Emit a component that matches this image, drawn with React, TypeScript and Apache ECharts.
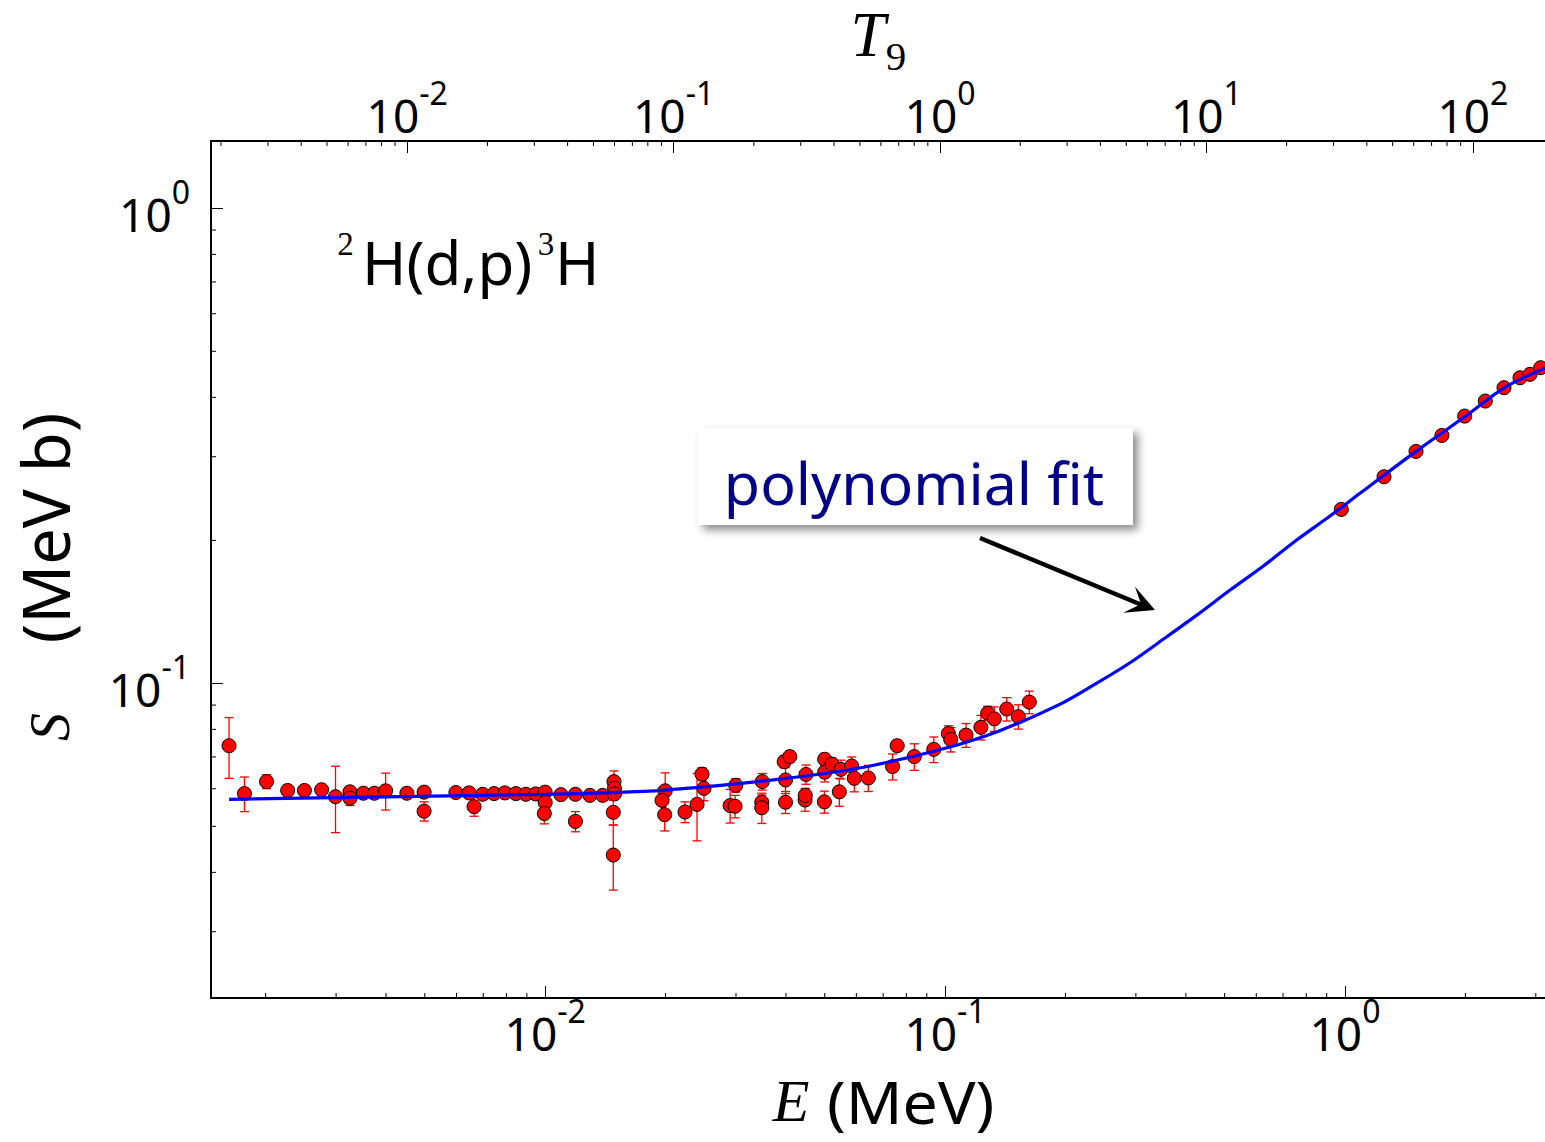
import React, { useEffect, useRef } from 'react';
import * as echarts from 'echarts';

// ---------- data ----------
// low-energy measurements (E in MeV, S in MeV b, symmetric error)
const E_LOW = [
  0.00162, 0.00177, 0.00201, 0.00227, 0.0025, 0.00276, 0.00299, 0.00325, 0.00325, 0.00351,
  0.00374, 0.00399, 0.00451, 0.00498, 0.00498, 0.00598, 0.00645, 0.00664, 0.00698, 0.00745,
  0.00793, 0.00845, 0.00895, 0.00947, 0.01, 0.01, 0.00995, 0.01095, 0.0119, 0.0119,
  0.01294, 0.01393, 0.01486, 0.0149, 0.0149, 0.0148, 0.0148, 0.01996, 0.0196, 0.0199,
  0.02237, 0.02397, 0.02467, 0.02495, 0.029, 0.02984, 0.02996, 0.0349, 0.0348, 0.0348,
  0.0396, 0.0409, 0.0399, 0.0399, 0.04488, 0.04466, 0.0447, 0.05, 0.05, 0.0499,
  0.05214, 0.0549, 0.05439, 0.0584, 0.05929, 0.06427, 0.0739, 0.0759, 0.08375, 0.0937,
  0.1019, 0.1033, 0.1128, 0.1229, 0.1278, 0.1327, 0.1426, 0.1524, 0.1624,
];
const S_LOW = [
  0.0739, 0.0586, 0.0621, 0.0595, 0.0595, 0.0597, 0.0577, 0.0591, 0.0573, 0.0587,
  0.0587, 0.0594, 0.0587, 0.059, 0.0538, 0.0589, 0.0588, 0.055, 0.0584, 0.0586,
  0.0588, 0.0586, 0.0584, 0.0585, 0.059, 0.0561, 0.0532, 0.0583, 0.0584, 0.0512,
  0.0581, 0.0581, 0.0621, 0.0601, 0.0585, 0.0535, 0.0435, 0.0594, 0.0567, 0.0529,
  0.0536, 0.0556, 0.0644, 0.0601, 0.0553, 0.0551, 0.061, 0.0621, 0.0562, 0.0547,
  0.0684, 0.0701, 0.0626, 0.0562, 0.0643, 0.0568, 0.0581, 0.0692, 0.065, 0.0563,
  0.0676, 0.0659, 0.0591, 0.067, 0.0631, 0.0632, 0.0668, 0.0739, 0.0701, 0.0726,
  0.0784, 0.0762, 0.0778, 0.0808, 0.0865, 0.0842, 0.0883, 0.0851, 0.0913,
];
const ERR_LOW = [
  0.0108, 0.0049, 0.0021, 0.0015, 0.001, 0.001, 0.0092, 0.0012, 0.002, 0.001,
  0.001, 0.0053, 0.0008, 0.0008, 0.0025, 0.0007, 0.0007, 0.0025, 0.0007, 0.0007,
  0.0007, 0.0007, 0.0007, 0.0007, 0.0008, 0.0015, 0.0026, 0.0007, 0.0007, 0.0025,
  0.0007, 0.0007, 0.0033, 0.002, 0.001, 0.0032, 0.0068, 0.0054, 0.0035, 0.004,
  0.0027, 0.009, 0.002, 0.0035, 0.0045, 0.003, 0.002, 0.0025, 0.002, 0.004,
  0.002, 0.002, 0.004, 0.003, 0.003, 0.003, 0.002, 0.002, 0.003, 0.003,
  0.002, 0.003, 0.004, 0.003, 0.004, 0.004, 0.0042, 0.002, 0.0045, 0.0045,
  0.003, 0.0045, 0.0045, 0.0048, 0.003, 0.005, 0.005, 0.005, 0.005,
];
// high-energy measurements (errors smaller than the markers)
const E_HIGH = [0.979, 1.252, 1.505, 1.747, 1.992, 2.243, 2.498, 2.739, 2.901, 3.085];
const S_HIGH = [0.2324, 0.2722, 0.3078, 0.3326, 0.3653, 0.3929, 0.4192, 0.4399, 0.4472, 0.4618];

// polynomial fit, sampled along the drawn curve
const FIT_E = [
  0.00162, 0.00398, 0.01, 0.0149, 0.02, 0.03, 0.04, 0.05, 0.065, 0.1, 0.137, 0.194, 0.239,
  0.29, 0.351, 0.426, 0.516, 0.625, 0.757, 0.917, 1.09, 1.505, 2.0, 2.5, 3.163,
];
const FIT_S = [
  0.057, 0.0577, 0.0584, 0.0589, 0.0596, 0.0614, 0.0631, 0.0646, 0.067, 0.073, 0.0795, 0.0904, 0.1,
  0.1105, 0.1238, 0.1392, 0.1572, 0.1766, 0.2003, 0.225, 0.2512, 0.3078, 0.365, 0.419, 0.461,
];

// axis ranges
const E_RANGE = [0.00146, 3.163];
const S_RANGE = [0.021755, 1.386];
const T9_RANGE = [0.001834, 186.6];
// minor tick multipliers (2..9 per decade) and decades spanned
const MINOR_MULT = [2, 3, 4, 5, 6, 7, 8, 9];
const E_DECADES = [-3, -2, -1, 0];
const S_DECADES = [-2, -1, 0];
const T9_DECADES = [-3, -2, -1, 0, 1, 2];

const SANS = "'Noto Sans', 'Liberation Sans', sans-serif";
const SERIF = "'Liberation Serif', 'DejaVu Serif', serif";

function minorTicks(decades: number[], range: number[]) {
  const out: number[] = [];
  decades.forEach((d) =>
    MINOR_MULT.forEach((m) => {
      const v = m * Math.pow(10, d);
      if (v > range[0] && v < range[1]) out.push(v);
    })
  );
  return out;
}

const pow10Label = (v: number) => {
  const e = Math.round(Math.log10(v));
  return `{b|10}{s|${e}}`;
};

const labelRich = {
  b: { fontFamily: SANS, fontSize: 46, color: '#000', lineHeight: 78 },
  s: { fontFamily: SANS, fontSize: 32, color: '#000', lineHeight: 20, verticalAlign: 'top' },
};

export default function App() {
  const ref = useRef<HTMLDivElement>(null);

  useEffect(() => {
    if (!ref.current) return;
    const chart = echarts.init(ref.current, null, { renderer: 'svg' });

    const scatterData = [
      ...E_LOW.map((e, i) => [e, S_LOW[i]]),
      ...E_HIGH.map((e, i) => [e, S_HIGH[i]]),
    ];
    const errData = E_LOW.map((e, i) => [e, S_LOW[i] - ERR_LOW[i], S_LOW[i] + ERR_LOW[i]]);
    const fitData = FIT_E.map((e, i) => [e, FIT_S[i]]);

    const tickLine = (x1: number, y1: number, x2: number, y2: number) => ({
      type: 'line',
      shape: { x1, y1, x2, y2 },
      style: { stroke: '#000', lineWidth: 1 },
    });

    const txt = (
      text: string,
      x: number,
      y: number,
      family: string,
      size: number,
      extra: any = {},
      align = 'center'
    ) => ({
      type: 'text',
      x,
      y,
      ...(extra.rotation !== undefined ? { rotation: extra.rotation } : {}),
      ...(extra.scaleX !== undefined ? { scaleX: extra.scaleX } : {}),
      style: {
        text,
        align,
        verticalAlign: 'middle',
        fontFamily: family,
        fontSize: size,
        fontStyle: extra.italic ? 'italic' : 'normal',
        lineHeight: extra.lineHeight ?? Math.round(size * 1.0),
        fill: extra.fill ?? '#000',
      },
      z: extra.z ?? 50,
    });

    const option: any = {
      animation: false,
      backgroundColor: '#fff',
      grid: { left: 211, top: 141, right: 0, bottom: 144, containLabel: false },
      xAxis: [
        {
          type: 'log',
          logBase: 10,
          min: E_RANGE[0],
          max: E_RANGE[1],
          position: 'bottom',
          axisLine: { show: true, onZero: false, lineStyle: { color: '#000', width: 2 } },
          axisTick: { show: true, inside: true, length: 12, lineStyle: { color: '#000', width: 1 } },
          splitLine: { show: false },
          axisLabel: {
            formatter: pow10Label,
            rich: labelRich,
            margin: -4,
            showMinLabel: false,
            showMaxLabel: false,
          },
        },
        {
          type: 'log',
          logBase: 10,
          min: T9_RANGE[0],
          max: T9_RANGE[1],
          position: 'top',
          axisLine: { show: true, onZero: false, lineStyle: { color: '#000', width: 2 } },
          axisTick: { show: true, inside: true, length: 12, lineStyle: { color: '#000', width: 1 } },
          splitLine: { show: false },
          axisLabel: {
            formatter: pow10Label,
            rich: labelRich,
            margin: -13,
            showMinLabel: false,
            showMaxLabel: false,
          },
        },
      ],
      yAxis: [
        {
          type: 'log',
          logBase: 10,
          min: S_RANGE[0],
          max: S_RANGE[1],
          position: 'left',
          axisLine: { show: true, onZero: false, lineStyle: { color: '#000', width: 2 } },
          axisTick: { show: true, inside: true, length: 12, lineStyle: { color: '#000', width: 1 } },
          splitLine: { show: false },
          axisLabel: {
            formatter: pow10Label,
            rich: labelRich,
            margin: 21,
            padding: [12, 0, 0, 0],
            showMinLabel: false,
            showMaxLabel: false,
          },
        },
      ],
      series: [
        // minor ticks, bottom axis
        {
          type: 'custom',
          silent: true,
          xAxisIndex: 0,
          yAxisIndex: 0,
          data: minorTicks(E_DECADES, E_RANGE).map((v) => [v, S_RANGE[0]]),
          encode: { x: 0, y: 1 },
          renderItem: (_p: any, api: any) => {
            const p = api.coord([api.value(0), S_RANGE[0]]);
            return tickLine(p[0], p[1], p[0], p[1] - 5);
          },
          z: 1,
        },
        // minor ticks, top (T9) axis
        {
          type: 'custom',
          silent: true,
          xAxisIndex: 1,
          yAxisIndex: 0,
          data: minorTicks(T9_DECADES, T9_RANGE).map((v) => [v, S_RANGE[1]]),
          encode: { x: 0, y: 1 },
          renderItem: (_p: any, api: any) => {
            const p = api.coord([api.value(0), S_RANGE[1]]);
            return tickLine(p[0], p[1], p[0], p[1] + 5);
          },
          z: 1,
        },
        // minor ticks, left axis
        {
          type: 'custom',
          silent: true,
          xAxisIndex: 0,
          yAxisIndex: 0,
          data: minorTicks(S_DECADES, S_RANGE).map((v) => [E_RANGE[0], v]),
          encode: { x: 0, y: 1 },
          renderItem: (_p: any, api: any) => {
            const p = api.coord([E_RANGE[0], api.value(1)]);
            return tickLine(p[0], p[1], p[0] + 5, p[1]);
          },
          z: 1,
        },
        // error bars
        {
          type: 'custom',
          name: 'errors',
          silent: true,
          xAxisIndex: 0,
          yAxisIndex: 0,
          data: errData,
          encode: { x: 0, y: [1, 2] },
          renderItem: (_p: any, api: any) => {
            const x = api.value(0);
            const lo = api.coord([x, api.value(1)]);
            const hi = api.coord([x, api.value(2)]);
            const w = 4.5;
            const st = { stroke: '#ff0000', lineWidth: 1.3 };
            return {
              type: 'group',
              children: [
                { type: 'line', shape: { x1: lo[0], y1: lo[1], x2: hi[0], y2: hi[1] }, style: st },
                { type: 'line', shape: { x1: lo[0] - w, y1: lo[1], x2: lo[0] + w, y2: lo[1] }, style: st },
                { type: 'line', shape: { x1: hi[0] - w, y1: hi[1], x2: hi[0] + w, y2: hi[1] }, style: st },
              ],
            };
          },
          z: 2,
        },
        {
          type: 'scatter',
          name: 'data',
          xAxisIndex: 0,
          yAxisIndex: 0,
          data: scatterData,
          symbol: 'circle',
          symbolSize: 14,
          itemStyle: { color: '#ff0000', borderColor: '#000', borderWidth: 1, opacity: 1 },
          z: 3,
        },
        {
          type: 'line',
          name: 'polynomial fit',
          xAxisIndex: 0,
          yAxisIndex: 0,
          data: fitData,
          showSymbol: false,
          symbol: 'none',
          smooth: 0.3,
          lineStyle: { color: '#0000ff', width: 3.2 },
          z: 4,
        },
      ],
      graphic: [
        // top axis title T9
        txt('T', 868, 35, SERIF, 63, { italic: true, lineHeight: 50 }),
        txt('9', 896, 56, SERIF, 41, { lineHeight: 34 }),
        // x axis title
        txt('E', 791, 1101, SERIF, 60, { italic: true, lineHeight: 50 }),
        txt('(MeV)', 827, 1101, SANS, 58, { lineHeight: 52, scaleX: 1.08 }, 'left'),
        // y axis title (rotated, reads bottom to top)
        txt('S', 50, 727, SERIF, 56, { italic: true, rotation: Math.PI / 2 }),
        txt('(MeV b)', 45, 528, SANS, 65, { rotation: Math.PI / 2 }),
        // reaction label
        txt('2', 345.5, 244, SERIF, 33, { lineHeight: 28 }),
        txt('H(d,p)', 362, 262, SANS, 60, { lineHeight: 56 }, 'left'),
        txt('3', 546, 244, SERIF, 33, { lineHeight: 28 }),
        txt('H', 555, 262, SANS, 60, { lineHeight: 56 }, 'left'),
        // annotation box
        {
          type: 'rect',
          shape: { x: 698, y: 428, width: 435, height: 97 },
          style: {
            fill: '#fff',
            shadowBlur: 8,
            shadowOffsetX: 5,
            shadowOffsetY: 5,
            shadowColor: 'rgba(0,0,0,0.45)',
          },
          z: 100,
        },
        txt('polynomial fit', 914, 482, "'Comic Sans MS', 'Noto Sans', sans-serif", 59, {
          fill: '#00008b',
          z: 101,
        }),
        // arrow
        {
          type: 'line',
          shape: { x1: 980, y1: 538, x2: 1142, y2: 605 },
          style: { stroke: '#000', lineWidth: 4.5 },
          z: 100,
        },
        {
          type: 'polygon',
          shape: { points: [[1155, 610], [1135, 586.7], [1141, 604], [1123.3, 612.7]] },
          style: { fill: '#000' },
          z: 100,
        },
      ],
    };

    chart.setOption(option);
    return () => chart.dispose();
  }, []);

  return (
    <div
      ref={ref}
      style={{ position: 'fixed', left: 0, top: 0, width: 1545, height: 1142, background: '#fff' }}
    />
  );
}
